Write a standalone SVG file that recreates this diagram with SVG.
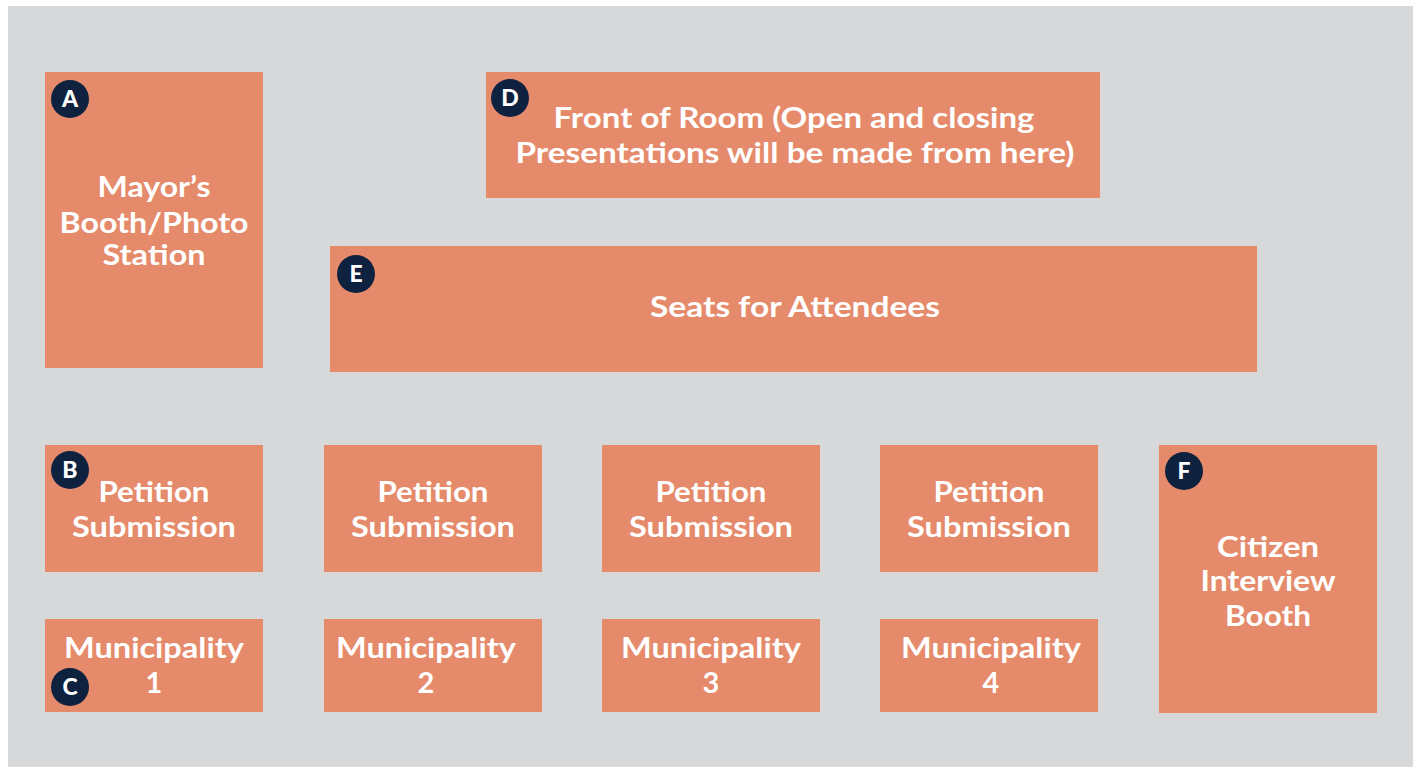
<svg xmlns="http://www.w3.org/2000/svg" width="1419" height="767" viewBox="0 0 1419 767">
<style>
.box{fill:#E58B6B}
.lbl{font-family:Lato,"Liberation Sans",sans-serif;font-weight:700;font-size:29px;fill:#FFFFFF;text-anchor:middle}
.badge{fill:#0E2240}
.bl{font-family:Lato,"Liberation Sans",sans-serif;font-weight:900;font-size:23px;fill:#FFFFFF;text-anchor:middle}
</style>
<rect x="0" y="0" width="1419" height="767" fill="#FFFFFF"/>
<rect x="8" y="6" width="1405" height="761" fill="#D7D8DA"/>
<g id="connectors"></g>
<g id="nodeA">
<rect class="box" x="45" y="72" width="218" height="296"/>
<text class="lbl" x="154" y="197" textLength="113" lengthAdjust="spacingAndGlyphs">Mayor’s</text>
<text class="lbl" x="154" y="233" textLength="189" lengthAdjust="spacingAndGlyphs">Booth/Photo</text>
<text class="lbl" x="154" y="265" textLength="103" lengthAdjust="spacingAndGlyphs">Station</text>
<circle class="badge" cx="70" cy="99" r="19"/>
<text class="bl" x="70" y="107">A</text>
</g>
<g id="nodeD">
<rect class="box" x="486" y="72" width="614" height="126"/>
<text class="lbl" x="794" y="128" textLength="481" lengthAdjust="spacingAndGlyphs">Front of Room (Open and closing</text>
<text class="lbl" x="795" y="163" textLength="559" lengthAdjust="spacingAndGlyphs">Presentations will be made from here)</text>
<circle class="badge" cx="510" cy="98" r="19"/>
<text class="bl" x="510" y="106">D</text>
</g>
<g id="nodeE">
<rect class="box" x="330" y="246" width="927" height="126"/>
<text class="lbl" x="795" y="317" textLength="290" lengthAdjust="spacingAndGlyphs">Seats for Attendees</text>
<circle class="badge" cx="356" cy="274" r="19"/>
<text class="bl" x="356" y="282">E</text>
</g>
<g id="nodeB1">
<rect class="box" x="45" y="445" width="218" height="127"/>
<text class="lbl" x="154" y="502" textLength="111" lengthAdjust="spacingAndGlyphs">Petition</text>
<text class="lbl" x="154" y="537" textLength="164" lengthAdjust="spacingAndGlyphs">Submission</text>
<circle class="badge" cx="70" cy="470" r="19"/>
<text class="bl" x="70" y="478">B</text>
</g>
<g id="nodeB2">
<rect class="box" x="324" y="445" width="218" height="127"/>
<text class="lbl" x="433" y="502" textLength="111" lengthAdjust="spacingAndGlyphs">Petition</text>
<text class="lbl" x="433" y="537" textLength="164" lengthAdjust="spacingAndGlyphs">Submission</text>
</g>
<g id="nodeB3">
<rect class="box" x="602" y="445" width="218" height="127"/>
<text class="lbl" x="711" y="502" textLength="111" lengthAdjust="spacingAndGlyphs">Petition</text>
<text class="lbl" x="711" y="537" textLength="164" lengthAdjust="spacingAndGlyphs">Submission</text>
</g>
<g id="nodeB4">
<rect class="box" x="880" y="445" width="218" height="127"/>
<text class="lbl" x="989" y="502" textLength="111" lengthAdjust="spacingAndGlyphs">Petition</text>
<text class="lbl" x="989" y="537" textLength="164" lengthAdjust="spacingAndGlyphs">Submission</text>
</g>
<g id="nodeF">
<rect class="box" x="1159" y="445" width="218" height="268"/>
<text class="lbl" x="1268" y="557" textLength="102" lengthAdjust="spacingAndGlyphs">Citizen</text>
<text class="lbl" x="1268" y="591" textLength="135" lengthAdjust="spacingAndGlyphs">Interview</text>
<text class="lbl" x="1268" y="626" textLength="86" lengthAdjust="spacingAndGlyphs">Booth</text>
<circle class="badge" cx="1184" cy="471" r="19"/>
<text class="bl" x="1184" y="479">F</text>
</g>
<g id="nodeC1">
<rect class="box" x="45" y="619" width="218" height="93"/>
<text class="lbl" x="154" y="658" textLength="180" lengthAdjust="spacingAndGlyphs">Municipality</text>
<text class="lbl" x="154" y="693">1</text>
<circle class="badge" cx="70" cy="687" r="19"/>
<text class="bl" x="70" y="695">C</text>
</g>
<g id="nodeC2">
<rect class="box" x="324" y="619" width="218" height="93"/>
<text class="lbl" x="426" y="658" textLength="180" lengthAdjust="spacingAndGlyphs">Municipality</text>
<text class="lbl" x="426" y="693">2</text>
</g>
<g id="nodeC3">
<rect class="box" x="602" y="619" width="218" height="93"/>
<text class="lbl" x="711" y="658" textLength="180" lengthAdjust="spacingAndGlyphs">Municipality</text>
<text class="lbl" x="711" y="693">3</text>
</g>
<g id="nodeC4">
<rect class="box" x="880" y="619" width="218" height="93"/>
<text class="lbl" x="991" y="658" textLength="180" lengthAdjust="spacingAndGlyphs">Municipality</text>
<text class="lbl" x="991" y="693">4</text>
</g>
</svg>
